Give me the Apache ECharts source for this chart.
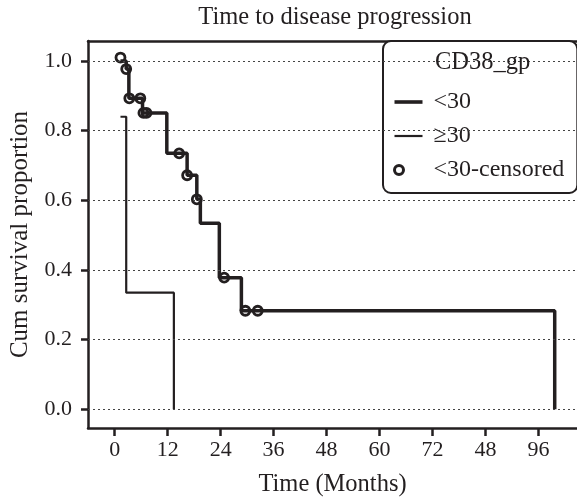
<!DOCTYPE html>
<html><head><meta charset="utf-8">
<script src="https://cdn.jsdelivr.net/npm/echarts@6/dist/echarts.min.js"></script>
<style>html,body{margin:0;padding:0;background:#fff}#c{width:577px;height:502px}</style>
</head><body><div id="c"></div>
<script>
// ---- data ----
const xTicks = [0, 12, 24, 36, 48, 60, 72, 84, 96];
const xTickLabels = ['0', '12', '24', '36', '48', '60', '72', '48', '96'];
const yTicks = [0, 0.2, 0.4, 0.6, 0.8, 1.0];

// group "<30": time at which survival becomes the value
const lowTimes = [1.3, 2.6, 3.2, 6.3, 11.8, 16.4, 18.6, 19.4, 23.7, 28.7, 99.7];
const lowSurv  = [1.0, 0.977, 0.893, 0.851, 0.735, 0.672, 0.603, 0.534, 0.378, 0.283, 0.0];

// group ">=30"
const highTimes = [1.3, 2.6, 13.4];
const highSurv  = [0.84, 0.335, 0.0];

// censored marks for "<30"
const censorTimes = [1.3, 2.6, 3.3, 5.8, 6.5, 7.2, 14.6, 16.4, 18.6, 24.8, 29.6, 32.4];
const censorSurv  = [1.01, 0.977, 0.893, 0.893, 0.851, 0.851, 0.735, 0.672, 0.603, 0.378, 0.283, 0.283];

const names = ['<30', '\u226530', '<30-censored'];
const ink = '#231f20';
const font = 'Liberation Serif';

const zip = (a, b) => a.map((v, i) => [v, b[i]]);

const chart = echarts.init(document.getElementById('c'), null, {renderer: 'canvas'});
chart.setOption({
  animation: false,
  backgroundColor: '#fff',
  textStyle: {fontFamily: font, color: ink},
  title: [
    {text: 'Time to disease progression', left: 330, top: 0, textAlign: 'center',
     textStyle: {fontFamily: font, fontSize: 24.5, fontWeight: 'normal', color: ink}},
    {text: 'CD38_gp', left: 430, top: 45,
     textStyle: {fontFamily: font, fontSize: 24.5, fontWeight: 'normal', color: ink}}
  ],
  grid: {left: 88, right: 0, top: 41, bottom: 74},
  legend: {
    orient: 'vertical', left: 383, top: 41,
    padding: [49, 13, 11, 10],
    itemWidth: 28, itemHeight: 12, itemGap: 10,
    backgroundColor: '#fff',
    borderColor: ink, borderWidth: 2, borderRadius: 8,
    textStyle: {fontFamily: font, fontSize: 24, color: ink, padding: [0, 0, 0, 6]},
    data: [
      {name: names[0], icon: 'path://M0,0H28V3.6H0Z'},
      {name: names[1], icon: 'path://M0,0H28V2.2H0Z'},
      {name: names[2], icon: 'path://M0,6a4.5,4.5 0 1,0 9,0a4.5,4.5 0 1,0 -9,0ZM28,6L28,6',
       itemStyle: {color: 'rgba(0,0,0,0)', borderColor: ink, borderWidth: 3}}
    ]
  },
  xAxis: [{
    type: 'value', min: -6.06, max: 104.75,
    name: 'Time (Months)', nameLocation: 'middle', nameGap: 44,
    nameTextStyle: {fontFamily: font, fontSize: 24.5, color: ink},
    axisLine: {show: true, onZero: false, lineStyle: {color: ink, width: 2.5}},
    axisTick: {show: true, length: 8, inside: false, customValues: xTicks, lineStyle: {color: ink, width: 2.5}},
    axisLabel: {customValues: xTicks, margin: 11, fontFamily: font, fontSize: 22, color: ink,
      formatter: v => xTickLabels[xTicks.indexOf(v)]},
    splitLine: {show: false}
  }, {
    type: 'value', position: 'top', min: -6.06, max: 104.75,
    axisLine: {show: true, onZero: false, lineStyle: {color: ink, width: 2.5}},
    axisTick: {show: false}, axisLabel: {show: false}, splitLine: {show: false}
  }],
  yAxis: {
    type: 'value', min: -0.0537, max: 1.0575,
    name: 'Cum survival proportion', nameLocation: 'middle', nameGap: 55,
    nameTextStyle: {fontFamily: font, fontSize: 25, color: ink},
    axisLine: {show: true, onZero: false, lineStyle: {color: ink, width: 2.5}},
    axisTick: {show: true, length: 7, customValues: yTicks, lineStyle: {color: ink, width: 2.5}},
    axisLabel: {customValues: yTicks, margin: 16, fontFamily: font, fontSize: 22, color: ink,
      formatter: v => v.toFixed(1)},
    splitLine: {show: false}
  },
  series: [
    {
      name: 'grid', type: 'line', data: [], silent: true,
      markLine: {
        silent: true, symbol: 'none', label: {show: false},
        lineStyle: {color: '#444', width: 1, type: [2, 3]},
        data: yTicks.map(v => ({yAxis: v}))
      }
    },
    {
      name: names[0], type: 'line', step: 'end', symbol: 'none',
      data: zip(lowTimes, lowSurv),
      lineStyle: {color: ink, width: 3.5}, itemStyle: {color: ink}, z: 3
    },
    {
      name: names[1], type: 'line', step: 'end', symbol: 'none',
      data: zip(highTimes, highSurv),
      lineStyle: {color: ink, width: 2.2}, itemStyle: {color: ink}, z: 3
    },
    {
      name: names[2], type: 'scatter', symbol: 'circle', symbolSize: 9,
      data: zip(censorTimes, censorSurv),
      itemStyle: {color: 'rgba(0,0,0,0)', borderColor: ink, borderWidth: 2.8, opacity: 1}, z: 4
    }
  ]
});
</script></body></html>
